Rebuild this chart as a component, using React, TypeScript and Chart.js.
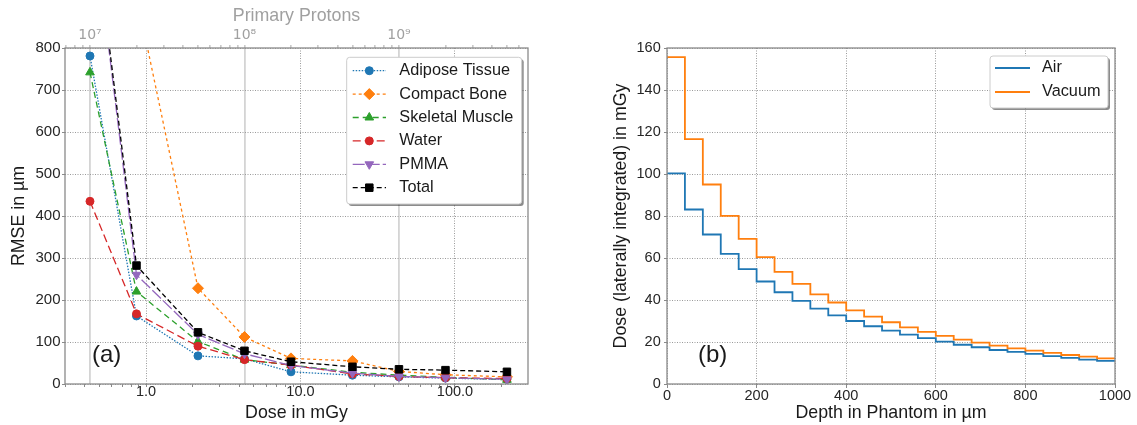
import React, { useEffect, useRef } from 'react';
import { Chart, registerables } from 'chart.js';

Chart.register(...registerables);

const FONT = "'Liberation Sans', Arial, Helvetica, sans-serif";

// ---------- Panel (a) data ----------
const doseValues = [0.434, 0.868, 2.17, 4.34, 8.68, 21.7, 43.4, 86.8, 217];
const adiposeTissue = [781, 162, 67, 60, 29, 21, 17, 14, 11];
const compactBone = [1900, 925, 228, 112, 61, 55, 30, 22, 17];
const skeletalMuscle = [742, 220, 101, 58, 45, 28, 21, 16, 10];
const water = [435, 167, 90, 58, 45, 24, 18, 15, 13];
const pmma = [1165, 260, 118, 72, 44, 26, 18, 15, 11];
const total = [1175, 282, 123, 79, 53, 41, 35, 33, 29];

const doseMajorTicks = [1, 10, 100];
const doseMajorLabels = ['1.0', '10.0', '100.0'];
const doseMinorTicks = [0.3, 0.4, 0.5, 0.6, 0.7, 0.8, 0.9, 2, 3, 4, 5, 6, 7, 8, 9, 20, 30, 40, 50, 60, 70, 80, 90, 200];
const protonMajorTicks = [1e7, 1e8, 1e9];
const protonMajorLabels = ['10\u2077', '10\u2078', '10\u2079'];
const protonMinorTicks = [7e6, 8e6, 9e6, 2e7, 3e7, 4e7, 5e7, 6e7, 7e7, 8e7, 9e7, 2e8, 3e8, 4e8, 5e8, 6e8, 7e8, 8e8, 9e8, 2e9, 3e9, 4e9, 5e9, 6e9];
const doseMin = 0.299;
const doseMax = 297;
const protonsPerMilligray = 1e7 / 0.434;

// ---------- Panel (b) data ----------
const depthEdges = [0, 40, 80, 120, 160, 200, 240, 280, 320, 360, 400, 440, 480, 520, 560, 600, 640, 680, 720, 760, 800, 840, 880, 920, 960, 1000];
const doseAir = [100.3, 83.1, 71.2, 62.0, 54.7, 48.8, 43.7, 39.6, 35.9, 32.7, 30.0, 27.5, 25.4, 23.5, 21.8, 20.2, 18.7, 17.5, 16.2, 15.3, 14.3, 13.3, 12.4, 11.6, 11.0];
const doseVacuum = [155.7, 116.6, 95.0, 80.1, 69.1, 60.4, 53.4, 47.7, 42.7, 38.8, 35.1, 32.1, 29.4, 27.0, 24.8, 22.9, 21.1, 19.7, 18.3, 17.0, 15.9, 14.8, 13.8, 13.0, 12.2];

const TICK_COLOR = '#262626';
const GRID_DOT = '#9a9a9a';
const SPINE = '#8a8a8a';

function drawMarker(ctx: CanvasRenderingContext2D, style: string, x: number, y: number, r: number, rotation: number, color: string) {
  ctx.save();
  ctx.setLineDash([]);
  ctx.fillStyle = color;
  ctx.strokeStyle = color;
  ctx.lineWidth = 1;
  ctx.beginPath();
  if (style === 'circle') {
    ctx.arc(x, y, r, 0, Math.PI * 2);
  } else if (style === 'rectRot') {
    ctx.moveTo(x - r, y);
    ctx.lineTo(x, y - r);
    ctx.lineTo(x + r, y);
    ctx.lineTo(x, y + r);
    ctx.closePath();
  } else if (style === 'triangle') {
    let rad = (rotation * Math.PI) / 180;
    ctx.moveTo(x + Math.sin(rad) * r, y - Math.cos(rad) * r);
    rad += (2 * Math.PI) / 3;
    ctx.lineTo(x + Math.sin(rad) * r, y - Math.cos(rad) * r);
    rad += (2 * Math.PI) / 3;
    ctx.lineTo(x + Math.sin(rad) * r, y - Math.cos(rad) * r);
    ctx.closePath();
  } else if (style === 'rect') {
    const s = r * Math.SQRT1_2;
    ctx.rect(x - s, y - s, 2 * s, 2 * s);
  }
  ctx.fill();
  ctx.stroke();
  ctx.restore();
}

function roundRectPath(ctx: CanvasRenderingContext2D, x: number, y: number, w: number, h: number, r: number) {
  ctx.beginPath();
  ctx.moveTo(x + r, y);
  ctx.lineTo(x + w - r, y);
  ctx.arcTo(x + w, y, x + w, y + r, r);
  ctx.lineTo(x + w, y + h - r);
  ctx.arcTo(x + w, y + h, x + w - r, y + h, r);
  ctx.lineTo(x + r, y + h);
  ctx.arcTo(x, y + h, x, y + h - r, r);
  ctx.lineTo(x, y + r);
  ctx.arcTo(x, y, x + r, y, r);
  ctx.closePath();
}

function legendPlugin(o: any) {
  return {
    id: 'boxLegend',
    afterDraw(chart: any) {
      const ctx: CanvasRenderingContext2D = chart.ctx;
      const a = chart.chartArea;
      const x0 = a.right - o.rightInset - o.width;
      const y0 = a.top + o.topInset;
      ctx.save();
      roundRectPath(ctx, x0 + 2, y0 + 2, o.width, o.height, 3);
      ctx.fillStyle = 'rgba(0,0,0,0.45)';
      ctx.fill();
      roundRectPath(ctx, x0, y0, o.width, o.height, 3);
      ctx.fillStyle = '#ffffff';
      ctx.fill();
      ctx.strokeStyle = '#cccccc';
      ctx.lineWidth = 1;
      ctx.stroke();
      chart.data.datasets.forEach((ds: any, i: number) => {
        const y = y0 + o.firstRow + i * o.rowHeight;
        ctx.save();
        ctx.strokeStyle = ds.borderColor;
        ctx.lineWidth = ds.borderWidth;
        ctx.setLineDash(ds.borderDash || []);
        ctx.beginPath();
        ctx.moveTo(x0 + o.lineStart, y);
        ctx.lineTo(x0 + o.lineEnd, y);
        ctx.stroke();
        ctx.restore();
        if (ds.pointRadius > 0) {
          drawMarker(ctx, ds.pointStyle, x0 + o.markerX, y, ds.pointRadius, ds.pointRotation || 0, ds.borderColor);
        }
        ctx.fillStyle = '#1a1a1a';
        ctx.font = `${o.fontSize}px ${FONT}`;
        ctx.textBaseline = 'middle';
        ctx.textAlign = 'left';
        ctx.fillText(ds.label, x0 + o.textX, y);
      });
      ctx.restore();
    },
  };
}

function framePlugin() {
  return {
    id: 'frame',
    afterDatasetsDraw(chart: any) {
      const ctx: CanvasRenderingContext2D = chart.ctx;
      const a = chart.chartArea;
      ctx.save();
      ctx.setLineDash([]);
      ctx.strokeStyle = SPINE;
      ctx.lineWidth = 1.3;
      ctx.strokeRect(a.left, a.top, a.right - a.left, a.bottom - a.top);
      ctx.restore();
    },
  };
}

function panelLabelPlugin(text: string, dx: number, dy: number) {
  return {
    id: 'panelLabel',
    afterDatasetsDraw(chart: any) {
      const ctx: CanvasRenderingContext2D = chart.ctx;
      const a = chart.chartArea;
      ctx.save();
      ctx.fillStyle = '#1a1a1a';
      ctx.font = `24px ${FONT}`;
      ctx.textAlign = 'left';
      ctx.textBaseline = 'middle';
      ctx.fillText(text, a.left + dx, a.bottom - dy);
      ctx.restore();
    },
  };
}

const seriesA = [
  { label: 'Adipose Tissue', values: adiposeTissue, color: '#1f77b4', dash: [1.5, 1.5], marker: 'circle', radius: 4, rotation: 0 },
  { label: 'Compact Bone', values: compactBone, color: '#ff7f0e', dash: [3, 3], marker: 'rectRot', radius: 5.5, rotation: 0 },
  { label: 'Skeletal Muscle', values: skeletalMuscle, color: '#2ca02c', dash: [6, 4], marker: 'triangle', radius: 5, rotation: 0 },
  { label: 'Water', values: water, color: '#d62728', dash: [8, 4], marker: 'circle', radius: 4, rotation: 0 },
  { label: 'PMMA', values: pmma, color: '#9467bd', dash: [12, 3], marker: 'triangle', radius: 5, rotation: 180 },
  { label: 'Total', values: total, color: '#000000', dash: [5, 3], marker: 'rect', radius: 5.3, rotation: 0 },
];

function leftConfig(): any {
  return {
    type: 'line',
    data: {
      datasets: seriesA.map((s, i) => ({
        label: s.label,
        data: doseValues.map((d, j) => ({ x: d, y: s.values[j] })),
        borderColor: s.color,
        backgroundColor: s.color,
        borderWidth: 1.3,
        borderDash: s.dash,
        pointStyle: s.marker,
        pointRadius: s.radius,
        pointRotation: s.rotation,
        pointBorderWidth: 1,
        pointBorderColor: s.color,
        pointBackgroundColor: s.color,
        fill: false,
        tension: 0,
        clip: 0,
        order: seriesA.length - i,
        xAxisID: 'x',
        yAxisID: 'y',
      })),
    },
    options: {
      responsive: false,
      animation: false,
      layout: { padding: { left: 0, right: 32, top: 0, bottom: 0 } },
      plugins: { legend: { display: false }, tooltip: { enabled: false } },
      scales: {
        x: {
          type: 'logarithmic',
          position: 'bottom',
          min: doseMin,
          max: doseMax,
          afterBuildTicks: (s: any) => {
            s.ticks = [...doseMinorTicks, ...doseMajorTicks].sort((a, b) => a - b).map((v) => ({ value: v }));
          },
          afterFit: (s: any) => { s.height = 41; },
          ticks: {
            autoSkip: false,
            maxRotation: 0,
            padding: -2,
            color: TICK_COLOR,
            font: { size: 14.5, lineHeight: 1 },
            callback: (v: any) => {
              const i = doseMajorTicks.indexOf(Number(v));
              return i >= 0 ? doseMajorLabels[i] : '';
            },
          },
          grid: {
            color: (c: any) => (c.tick && doseMajorTicks.indexOf(c.tick.value) >= 0 ? GRID_DOT : 'rgba(0,0,0,0)'),
            lineWidth: 1,
            tickLength: 3,
            tickColor: SPINE,
            tickWidth: 1,
            tickBorderDash: [],
          },
          border: { display: false, dash: [1, 1.5] },
          title: { display: true, text: 'Dose in mGy', color: '#1a1a1a', font: { size: 17.8 }, padding: { top: 0, bottom: 1.3 } },
        },
        x2: {
          type: 'logarithmic',
          position: 'top',
          min: doseMin * protonsPerMilligray,
          max: doseMax * protonsPerMilligray,
          afterBuildTicks: (s: any) => {
            s.ticks = [...protonMinorTicks, ...protonMajorTicks].sort((a, b) => a - b).map((v) => ({ value: v }));
          },
          afterFit: (s: any) => { s.height = 48; },
          ticks: {
            autoSkip: false,
            maxRotation: 0,
            padding: 2.3,
            color: '#a0a0a0',
            font: { family: "'DejaVu Sans', 'Liberation Sans', sans-serif", size: 14, lineHeight: 1 },
            callback: (v: any) => {
              const i = protonMajorTicks.indexOf(Number(v));
              return i >= 0 ? protonMajorLabels[i] : '';
            },
          },
          grid: {
            color: (c: any) => (c.tick && protonMajorTicks.indexOf(c.tick.value) >= 0 ? '#d4d4d4' : 'rgba(0,0,0,0)'),
            lineWidth: 1.8,
            tickLength: 3,
            tickColor: '#a8a8a8',
            tickWidth: 1,
            tickBorderDash: [],
          },
          border: { display: false, dash: [] },
          title: { display: true, text: 'Primary Protons', color: '#a0a0a0', font: { size: 17.8 }, padding: { top: 5, bottom: 0 } },
        },
        y: {
          type: 'linear',
          position: 'left',
          min: 0,
          max: 800,
          afterFit: (s: any) => { s.width = 65; },
          ticks: { stepSize: 100, padding: 1.5, color: TICK_COLOR, font: { size: 15 } },
          grid: { color: GRID_DOT, lineWidth: 1, tickLength: 3, tickColor: SPINE, tickWidth: 1, tickBorderDash: [] },
          border: { display: false, dash: [1, 1.5] },
          title: { display: true, text: 'RMSE in \u00b5m', color: '#1a1a1a', font: { size: 17.8 }, padding: { top: 8, bottom: 0 } },
        },
      },
    },
    plugins: [
      framePlugin(),
      panelLabelPlugin('(a)', 27, 29),
      legendPlugin({ rightInset: 6.3, topInset: 9.3, width: 175, height: 146.7, firstRow: 13.4, rowHeight: 23.4, lineStart: 6, lineEnd: 39.3, markerX: 22.6, textX: 52.6, fontSize: 16.3 }),
    ],
  };
}

function stepData(values: number[]) {
  return depthEdges.map((x, i) => ({ x, y: values[Math.min(i, values.length - 1)] }));
}

function rightConfig(): any {
  return {
    type: 'line',
    data: {
      datasets: [
        { label: 'Air', data: stepData(doseAir), borderColor: '#1f77b4', backgroundColor: '#1f77b4', borderWidth: 1.8, stepped: true, pointRadius: 0, fill: false, order: 2 },
        { label: 'Vacuum', data: stepData(doseVacuum), borderColor: '#ff7f0e', backgroundColor: '#ff7f0e', borderWidth: 1.8, stepped: true, pointRadius: 0, fill: false, order: 1 },
      ],
    },
    options: {
      responsive: false,
      animation: false,
      layout: { padding: { left: 0, right: 22, top: 48, bottom: 0 } },
      plugins: { legend: { display: false }, tooltip: { enabled: false } },
      scales: {
        x: {
          type: 'linear',
          min: 0,
          max: 1000,
          afterFit: (s: any) => { s.height = 41; },
          ticks: { stepSize: 200, maxRotation: 0, padding: 0.5, color: TICK_COLOR, font: { size: 14.5, lineHeight: 1 }, callback: (v: any) => String(v) },
          grid: { color: GRID_DOT, lineWidth: 1, tickLength: 4, tickColor: SPINE, tickWidth: 1, tickBorderDash: [] },
          border: { display: false, dash: [1, 1.5] },
          title: { display: true, text: 'Depth in Phantom in \u00b5m', color: '#1a1a1a', font: { size: 17.8 }, padding: { top: 0, bottom: 1.3 } },
        },
        y: {
          type: 'linear',
          min: 0,
          max: 160,
          afterFit: (s: any) => { s.width = 107; },
          ticks: { stepSize: 20, padding: 3.3, color: TICK_COLOR, font: { size: 14.5 } },
          grid: { color: GRID_DOT, lineWidth: 1, tickLength: 3, tickColor: SPINE, tickWidth: 1, tickBorderDash: [] },
          border: { display: false, dash: [1, 1.5] },
          title: { display: true, text: 'Dose (laterally integrated) in mGy', color: '#1a1a1a', font: { size: 17.8 }, padding: { top: 50.3, bottom: 0 } },
        },
      },
    },
    plugins: [
      framePlugin(),
      panelLabelPlugin('(b)', 31, 28.5),
      legendPlugin({ rightInset: 7, topInset: 8, width: 118, height: 52, firstRow: 12, rowHeight: 24, lineStart: 5, lineEnd: 40, markerX: 22, textX: 52, fontSize: 16.3 }),
    ],
  };
}

export default function App() {
  const leftRef = useRef<HTMLCanvasElement>(null);
  const rightRef = useRef<HTMLCanvasElement>(null);

  useEffect(() => {
    Chart.defaults.font.family = FONT;
    const c1 = new Chart(leftRef.current as HTMLCanvasElement, leftConfig());
    const c2 = new Chart(rightRef.current as HTMLCanvasElement, rightConfig());
    return () => {
      c1.destroy();
      c2.destroy();
    };
  }, []);

  return (
    <div style={{ position: 'fixed', left: 0, top: 0, width: 1137, height: 425, background: '#ffffff' }}>
      <canvas ref={leftRef} width={560} height={425} style={{ position: 'absolute', left: 0, top: 0 }} />
      <canvas ref={rightRef} width={577} height={425} style={{ position: 'absolute', left: 560, top: 0 }} />
    </div>
  );
}
